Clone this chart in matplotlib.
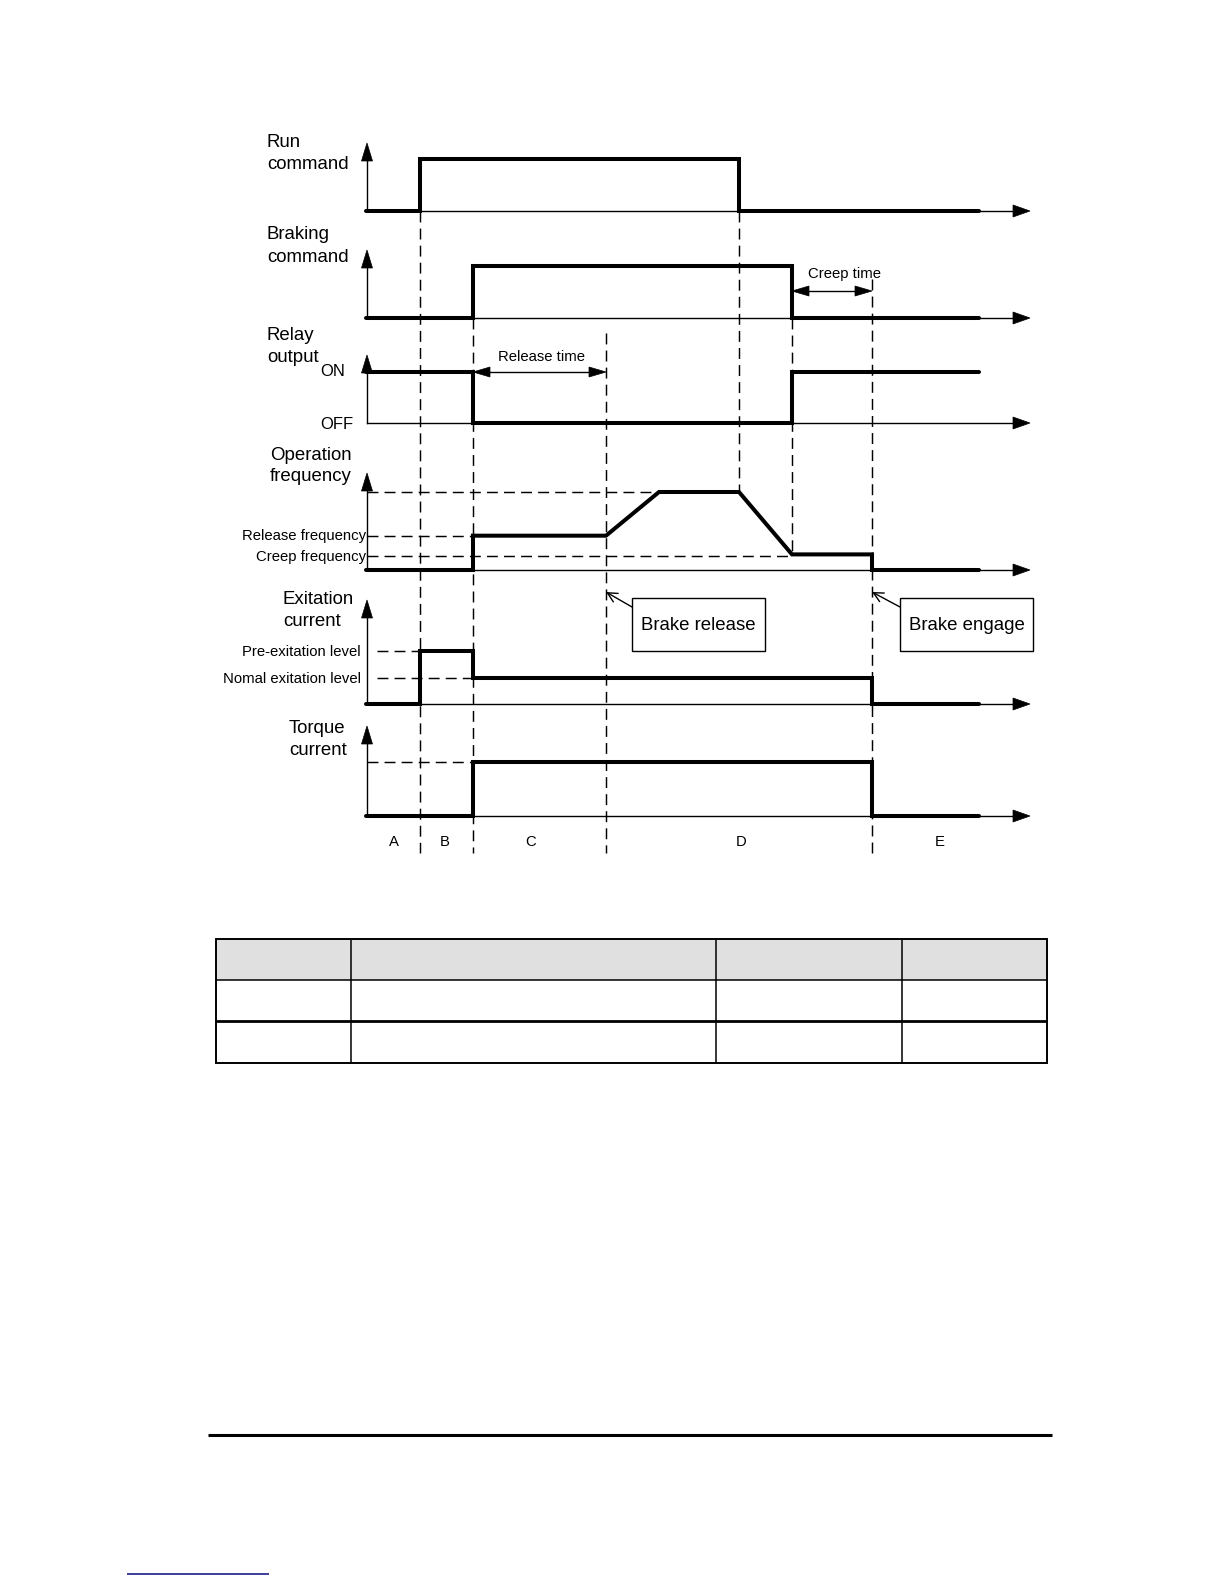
import matplotlib
matplotlib.use("Agg")
import matplotlib.pyplot as plt
from matplotlib.patches import Polygon, Rectangle

plt.rcParams['font.family'] = ['Liberation Sans', 'DejaVu Sans']

# ---------------- data ----------------
T0, T1 = 366, 979
run_t = [T0, 420, 420, 739, 739, T1]
run_v = [0, 0, 1, 1, 0, 0]
brake_t = [T0, 473, 473, 792, 792, T1]
brake_v = [0, 0, 1, 1, 0, 0]
relay_t = [T0, 473, 473, 792, 792, T1]
relay_v = [1, 1, 0, 0, 1, 1]
freq_t = [T0, 473, 473, 606, 659, 739, 792, 872, 872, T1]
freq_v = [0, 0, 0.44, 0.44, 1, 1, 0.2, 0.2, 0, 0]
creep_ref_level = 0.18
exc_t = [T0, 420, 420, 473, 473, 872, 872, T1]
exc_v = [0, 0, 1, 1, 0.5, 0.5, 0, 0]
torque_t = [T0, 473, 473, 872, 872, T1]
torque_v = [0, 0, 1, 1, 0, 0]

signals_t = [run_t, brake_t, relay_t, freq_t, exc_t, torque_t]
signals_v = [run_v, brake_v, relay_v, freq_v, exc_v, torque_v]

panel_titles = [["Run", "command"], ["Braking", "command"], ["Relay", "output"],
                ["Operation", "frequency"], ["Exitation", "current"], ["Torque", "current"]]
phase_labels = ["A", "B", "C", "D", "E"]

# ---------------- layout (page pixels) ----------------
AX_X = 367
AX_END = 1030
baselines = [211, 318, 423, 570, 704, 816]
heights = [52, 52, 51, 78, 53, 54]
axis_tops = [143, 250, 355, 473, 600, 726]
title_x = [267, 267, 267, 270, 283, 289]
title_y = [(147, 169), (239, 262), (340, 362), (459.5, 481), (604, 626), (733, 755)]
phase_x = [394, 445, 531, 741, 940]

THICK = 2.9
THIN = 1.0
DASH = (0, (7.5, 4.2))
DLW = 1.05
BIG = 13.4
SMALL = 10.7

fig = plt.figure(figsize=(12.24, 15.84), dpi=100)
ax = fig.add_axes([0, 0, 1, 1])
ax.set_xlim(0, 1224)
ax.set_ylim(1584, 0)
ax.axis('off')


def yv(i, v):
    return baselines[i] - v * heights[i]


def head(x, y, dx, dy, L=17, W=12):
    bx, by = x - L * dx, y - L * dy
    px, py = -dy, dx
    ax.add_patch(Polygon([(x, y), (bx + W / 2 * px, by + W / 2 * py),
                          (bx - W / 2 * px, by - W / 2 * py)],
                         closed=True, fc='black', ec='black', lw=0.5))


# axes of each panel
for i in range(6):
    b = baselines[i]
    ax.plot([AX_X, AX_END - 10], [b, b], color='black', lw=THIN)
    head(AX_END, b, 1, 0, L=17, W=12)
    ax.plot([AX_X, AX_X], [b, axis_tops[i] + 10], color='black', lw=THIN)
    head(AX_X, axis_tops[i], 0, -1, L=18, W=11)
    ax.text(title_x[i], title_y[i][0], panel_titles[i][0], fontsize=BIG, va='baseline', ha='left')
    ax.text(title_x[i], title_y[i][1], panel_titles[i][1], fontsize=BIG, va='baseline', ha='left')

# signals
for i in range(6):
    ys = [yv(i, v) for v in signals_v[i]]
    ax.plot(signals_t[i], ys, color='black', lw=THICK,
            solid_joinstyle='miter', solid_capstyle='round', zorder=3)

# horizontal dashed reference levels
ax.plot([AX_X, freq_t[4]], [yv(3, 1), yv(3, 1)], color='black', lw=DLW, ls=DASH)
ax.plot([AX_X, freq_t[2]], [yv(3, freq_v[2]), yv(3, freq_v[2])], color='black', lw=DLW, ls=DASH)
ax.plot([AX_X, freq_t[6]], [yv(3, creep_ref_level), yv(3, creep_ref_level)], color='black', lw=DLW, ls=DASH)
ax.plot([377, exc_t[2]], [yv(4, 1), yv(4, 1)], color='black', lw=DLW, ls=DASH)
ax.plot([377, exc_t[4]], [yv(4, 0.5), yv(4, 0.5)], color='black', lw=DLW, ls=DASH)
ax.plot([AX_X, torque_t[2]], [yv(5, 1), yv(5, 1)], color='black', lw=DLW, ls=DASH)

# vertical dashed guides
BOTTOM = 853
guides = [(run_t[1], baselines[0], BOTTOM),
          (brake_t[1], baselines[1], BOTTOM),
          (freq_t[3], 333, BOTTOM),
          (run_t[3], baselines[0], yv(3, 1)),
          (brake_t[3], baselines[1], yv(3, freq_v[6])),
          (freq_t[7], 279, BOTTOM)]
for gx, g0, g1 in guides:
    ax.plot([gx, gx], [g0, g1], color='black', lw=DLW, ls=DASH, zorder=2)

# level labels
ax.text(320, 376, "ON", fontsize=12, va='baseline', ha='left')
ax.text(320, 429, "OFF", fontsize=12, va='baseline', ha='left')
ax.text(366, 540, "Release frequency", fontsize=SMALL, va='baseline', ha='right')
ax.text(366, 561, "Creep frequency", fontsize=SMALL, va='baseline', ha='right')
ax.text(361, 656, "Pre-exitation level", fontsize=SMALL, va='baseline', ha='right')
ax.text(361, 683, "Nomal exitation level", fontsize=SMALL, va='baseline', ha='right')

# release time arrow
ry = yv(2, 1)
ax.plot([brake_t[1] + 10, freq_t[3] - 10], [ry, ry], color='black', lw=THIN)
head(brake_t[1], ry, -1, 0, L=17, W=10)
head(freq_t[3], ry, 1, 0, L=17, W=10)
ax.text((brake_t[1] + freq_t[3]) / 2 + 2, 361, "Release time", fontsize=SMALL, va='baseline', ha='center')

# creep time arrow
cy = 291
ax.plot([brake_t[3] + 10, freq_t[7] - 10], [cy, cy], color='black', lw=THIN)
head(brake_t[3], cy, -1, 0, L=17, W=10)
head(freq_t[7], cy, 1, 0, L=17, W=10)
ax.text(845, 278, "Creep time", fontsize=SMALL, va='baseline', ha='center')

# callout boxes
for (x0, x1, label, tx) in [(632, 765, "Brake release", freq_t[3]),
                            (900, 1033, "Brake engage", freq_t[7])]:
    ax.add_patch(Rectangle((x0, 598), x1 - x0, 53, fill=False, ec='black', lw=THIN))
    ax.text((x0 + x1) / 2, 625, label, fontsize=BIG, va='center', ha='center')
    ax.annotate("", xy=(tx, 592), xytext=(x0, 607),
                arrowprops=dict(arrowstyle='->,head_length=0.5,head_width=0.25',
                                lw=THIN, color='black', mutation_scale=14,
                                shrinkA=0, shrinkB=0))

# phase labels
for px, lab in zip(phase_x, phase_labels):
    ax.text(px, 845.5, lab, fontsize=SMALL, va='baseline', ha='center')

# ---------------- empty table ----------------
tx0, tx1 = 216, 1047
ty0, ty_h, ty_r1, ty1 = 939, 980, 1021, 1063
col_x = [351, 716, 902]
ax.add_patch(Rectangle((tx0, ty0), tx1 - tx0, ty_h - ty0, fc='#e0e0e0', ec='none'))
ax.add_patch(Rectangle((tx0, ty0), tx1 - tx0, ty1 - ty0, fill=False, ec='black', lw=1.4))
ax.plot([tx0, tx1], [ty_h, ty_h], color='black', lw=1.1, solid_capstyle='butt')
ax.plot([tx0, tx1], [ty_r1, ty_r1], color='black', lw=2.0, solid_capstyle='butt')
for cx in col_x:
    ax.plot([cx, cx], [ty0, ty1], color='black', lw=1.1, solid_capstyle='butt')

# footer lines
ax.plot([208, 1052], [1435, 1435], color='black', lw=2.2, solid_capstyle='butt')
ax.plot([127, 269], [1574, 1574], color='#1c1c8c', lw=1.2, solid_capstyle='butt')

fig.savefig("out.png", dpi=100)
